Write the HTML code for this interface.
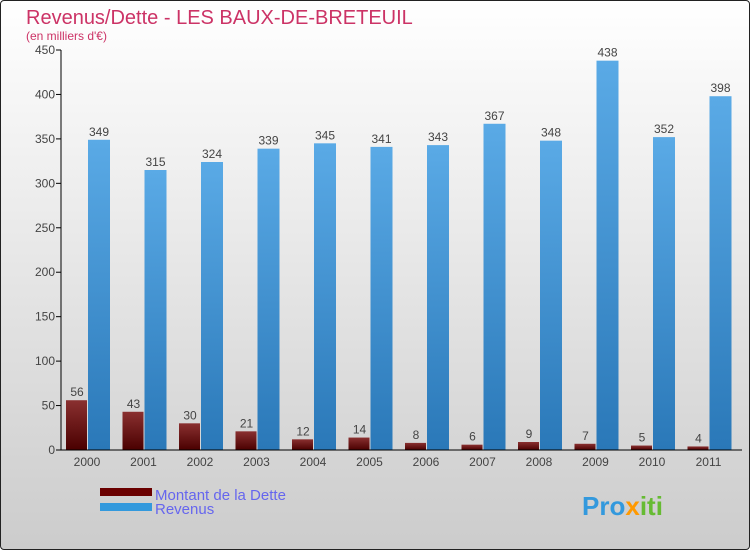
<!DOCTYPE html>
<html><head><meta charset="utf-8"><style>
body{margin:0;width:750px;height:550px;overflow:hidden;font-family:"Liberation Sans",sans-serif;}
#c{position:absolute;left:0;top:0;width:748px;height:548px;border:1px solid #222;border-radius:4px;background:linear-gradient(#ffffff,#cccccc);}
</style></head><body>
<div id="c"></div>
<svg id="s" width="750" height="550" style="position:absolute;left:0;top:0">
<defs>
<linearGradient id="gd" x1="0" y1="0" x2="0" y2="1"><stop offset="0" stop-color="#8a3030"/><stop offset="1" stop-color="#4a0000"/></linearGradient>
<linearGradient id="gr" x1="0" y1="0" x2="0" y2="1"><stop offset="0" stop-color="#5aaae6"/><stop offset="1" stop-color="#2a78b8"/></linearGradient>
</defs>
<text x="26" y="24" font-size="20" fill="#cc3366">Revenus/Dette - LES BAUX-DE-BRETEUIL</text>
<text x="26" y="40" font-size="12" fill="#cc3366">(en milliers d'€)</text>
<g id="g"></g>
<rect x="100" y="488" width="52" height="8" fill="#6a0000"/>
<rect x="100" y="503" width="52" height="8" fill="#3399dd"/>
<text x="155" y="500" font-size="15" fill="#6666ee">Montant de la Dette</text>
<text x="155" y="514" font-size="15" fill="#6666ee">Revenus</text>
<text x="582" y="515" font-size="26" font-weight="bold" fill="#3399dd">Pro<tspan fill="#ff9900">x</tspan><tspan fill="#66bb33">iti</tspan></text>
</svg>
<script>
const years=["2000","2001","2002","2003","2004","2005","2006","2007","2008","2009","2010","2011"];
const dette=[56,43,30,21,12,14,8,6,9,7,5,4];
const revenus=[349,315,324,339,345,341,343,367,348,438,352,398];
const ticks=[0,50,100,150,200,250,300,350,400,450];
const g=document.getElementById('g');const NS="http://www.w3.org/2000/svg";
const y=v=>450-v*400/450;const cx=i=>87+i*56.5;
function mk(t,a,txt){const e=document.createElementNS(NS,t);for(const k in a)e.setAttribute(k,a[k]);if(txt!==undefined)e.textContent=txt;g.appendChild(e);return e;}
ticks.forEach(t=>{
const l=mk('line',{x1:56,x2:61,y1:y(t),y2:y(t),stroke:'#000'});


const tx=mk('text',{x:55,y:y(t)+4,'font-size':12,fill:'#444','text-anchor':'end'},t);


});
years.forEach((yr,i)=>{
const c=cx(i);
const b1=mk('rect',{x:c-21,y:y(dette[i]),width:21,height:450-y(dette[i]),fill:'url(#gd)'});


const b2=mk('rect',{x:c+1,y:y(revenus[i]),width:22,height:450-y(revenus[i]),fill:'url(#gr)'});


const v1=mk('text',{x:c-10,y:y(dette[i])-4,'font-size':12,fill:'#444','text-anchor':'middle'},dette[i]);


const v2=mk('text',{x:c+12,y:y(revenus[i])-4,'font-size':12,fill:'#444','text-anchor':'middle'},revenus[i]);


const xl=mk('text',{x:c,y:466,'font-size':12,fill:'#444','text-anchor':'middle'},yr);


});
const ax=mk('line',{x1:61,x2:61,y1:50,y2:450,stroke:'#000'});


const bx=mk('line',{x1:56,x2:742,y1:450,y2:450,stroke:'#000'});


</script>
</body></html>
